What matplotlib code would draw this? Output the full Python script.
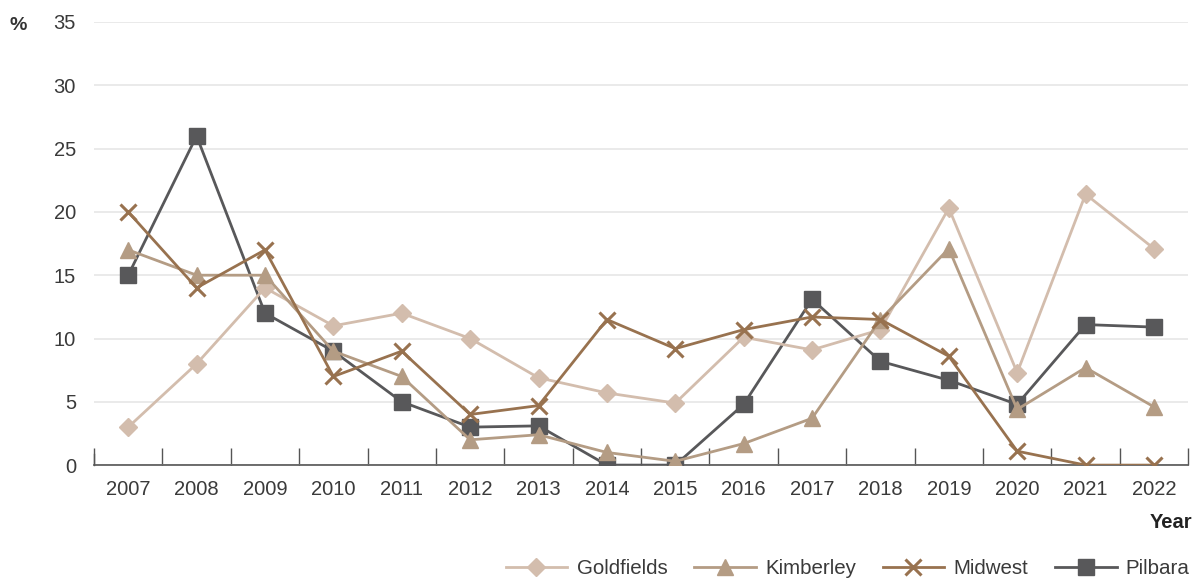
import matplotlib.pyplot as plt

plt.rcParams['font.family'] = ['Liberation Sans', 'DejaVu Sans']

years = ['2007', '2008', '2009', '2010', '2011', '2012', '2013', '2014',
         '2015', '2016', '2017', '2018', '2019', '2020', '2021', '2022']
goldfields = [3, 8, 14, 11, 12, 10, 6.9, 5.7, 4.9, 10.1, 9.1, 10.7, 20.3, 7.3, 21.4, 17.1]
kimberley = [17, 15, 15, 9, 7, 2, 2.4, 1, 0.3, 1.7, 3.7, 11.5, 17.1, 4.4, 7.7, 4.6]
midwest = [20, 14, 17, 7, 9, 4, 4.7, 11.5, 9.2, 10.7, 11.7, 11.5, 8.6, 1.1, 0, 0]
pilbara = [15, 26, 12, 9, 5, 3, 3.1, 0, 0, 4.8, 13.1, 8.2, 6.7, 4.8, 11.1, 10.9]

fig = plt.figure(figsize=(12.01, 5.88), dpi=100)
ax = fig.add_axes([0.0783, 0.209, 0.911, 0.7536])

x = list(range(len(years)))
ax.plot(x, pilbara, color='#58585a', lw=2, marker='s', ms=12, label='Pilbara', zorder=3)
ax.plot(x, goldfields, color='#d3bdad', lw=2, marker='D', ms=9, label='Goldfields', zorder=4)
ax.plot(x, kimberley, color='#b49c84', lw=2, marker='^', ms=12, label='Kimberley', zorder=5)
ax.plot(x, midwest, color='#98724f', lw=2, marker='x', ms=12, mew=2.2, label='Midwest', zorder=6)

ax.set_xlim(-0.5, len(years) - 0.5)
ax.set_ylim(0, 35)
ax.set_yticks(range(0, 36, 5))
ax.set_xticks(x)
ax.set_xticklabels(years)
ax.set_xticks([i - 0.5 for i in range(len(years) + 1)], minor=True)
ax.tick_params(axis='x', which='major', length=0, pad=11, labelsize=14.5, colors='#3a3a3a')
ax.tick_params(axis='x', which='minor', direction='in', length=12, width=1, color='#555555')
ax.tick_params(axis='y', length=0, pad=13, labelsize=14.5, colors='#3a3a3a')
ax.yaxis.grid(True, color='#e6e6e6', lw=1.2)
ax.set_axisbelow(True)
for s in ['top', 'right', 'left']:
    ax.spines[s].set_visible(False)
ax.spines['bottom'].set_color('#555555')
ax.spines['bottom'].set_linewidth(1.2)
ax.plot([-0.5, -0.5], [0, 0.9], color='#555555', lw=1, clip_on=False)

fig.text(0.008, 0.957, '%', fontsize=14, fontweight='bold', color='#333333', va='center')
fig.text(0.993, 0.112, 'Year', fontsize=14.5, fontweight='bold', color='#222222', ha='right', va='center')

h, l = ax.get_legend_handles_labels()
order = [1, 2, 3, 0]
fig.legend([h[i] for i in order], [l[i] for i in order], ncol=4, loc='lower right',
           bbox_to_anchor=(1.006, -0.014), frameon=False, handlelength=3.0,
           columnspacing=1.3, handletextpad=0.45, fontsize=14.8, labelcolor='#3a3a3a')

fig.savefig('out.png', dpi=100)
